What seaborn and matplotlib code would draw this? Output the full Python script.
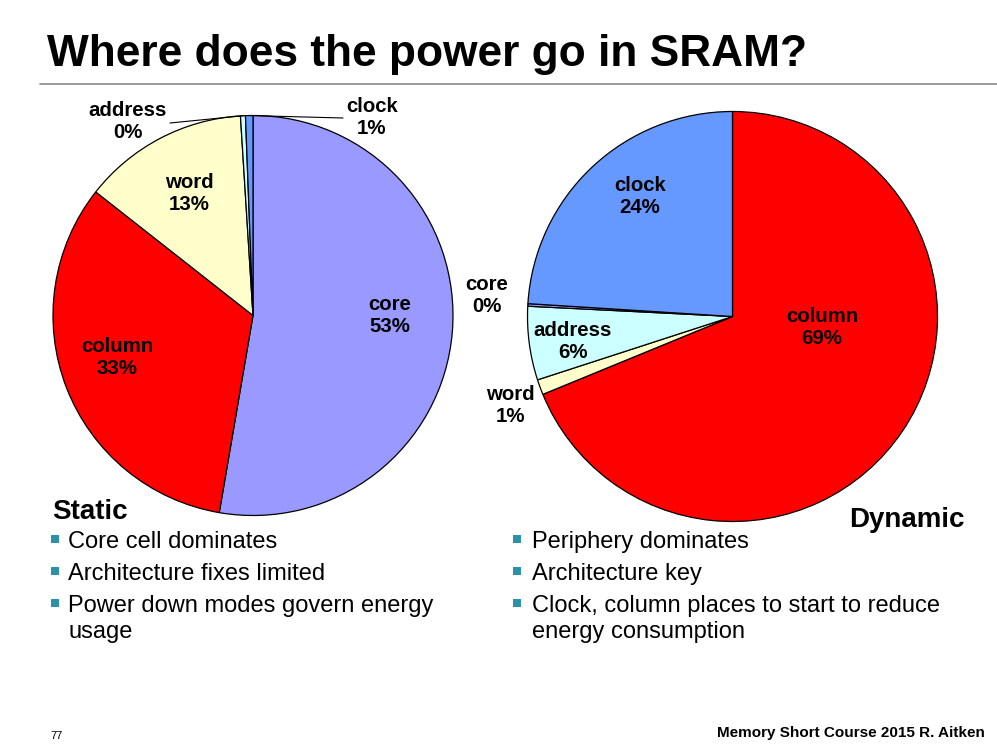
import matplotlib.pyplot as plt
import seaborn as sns
import numpy as np
from matplotlib.lines import Line2D
from matplotlib.patches import Rectangle

# data, in clockwise drawing order from 12 o'clock
static_labels = ['core', 'column', 'word', 'address', 'clock']
static_values = [52.7, 32.9, 13.4, 0.4, 0.6]

dynamic_labels = ['column', 'word', 'address', 'core', 'clock']
dynamic_values = [68.8, 1.2, 5.8, 0.2, 24.0]

colors = {'core': '#9999FF', 'column': '#FF0000', 'word': '#FFFFCC',
          'address': '#CCFFFF', 'clock': '#6699FF'}

static_bullets = ['Core cell dominates', 'Architecture fixes limited',
                  'Power down modes govern energy\nusage']
dynamic_bullets = ['Periphery dominates', 'Architecture key',
                   'Clock, column places to start to reduce\nenergy consumption']

# label text spots (in pie radius units)
static_label_pos = {'core': (0.685, 0.0), 'column': (-0.68, -0.21),
                    'word': (-0.32, 0.61), 'address': (-0.625, 0.97),
                    'clock': (0.595, 0.99)}
static_leaders = {'address': (-0.415, 0.9625), 'clock': (0.45, 0.9875)}
dynamic_label_pos = {'column': (0.437, -0.056), 'clock': (-0.451, 0.583),
                     'address': (-0.778, -0.12), 'core': (-1.198, 0.10),
                     'word': (-1.085, -0.432)}

W, H = 997, 746
sns.set_theme(style='white')
plt.rcParams['font.family'] = ['Liberation Sans', 'DejaVu Sans']
plt.rcParams['text.color'] = 'black'

fig = plt.figure(figsize=(W / 100, H / 100), dpi=100)
fig.patch.set_facecolor('white')


def px_axes(cx, cy, r):
    # square axes centred on pixel (cx, cy) with radius r
    return fig.add_axes([(cx - r) / W, 1 - (cy + r) / H, 2 * r / W, 2 * r / H])


def draw_pie(ax, labels, values, label_pos, leaders=None):
    wedges, _ = ax.pie(values, colors=[colors[l] for l in labels],
                       startangle=90, counterclock=False, radius=1,
                       wedgeprops=dict(edgecolor='black', linewidth=0.9))
    ax.set_xlim(-1, 1)
    ax.set_ylim(-1, 1)
    ax.set_aspect('equal')
    ax.axis('off')
    total = sum(values)
    for lab, val, w in zip(labels, values, wedges):
        x, y = label_pos[lab]
        ax.text(x, y, f'{lab}\n{val / total * 100:.0f}%', ha='center',
                va='center', fontsize=14.7, fontweight='bold',
                linespacing=1.2, color='black')
        if leaders and lab in leaders:
            mid = np.deg2rad((w.theta1 + w.theta2) / 2)
            ex, ey = np.cos(mid), np.sin(mid)
            sx, sy = leaders[lab]
            ax.add_line(Line2D([sx, ex], [sy, ey], color='black', lw=0.8,
                               clip_on=False))


ax1 = px_axes(253, 315.5, 200)
draw_pie(ax1, static_labels, static_values, static_label_pos, static_leaders)

ax2 = px_axes(732.5, 316.5, 205)
draw_pie(ax2, dynamic_labels, dynamic_values, dynamic_label_pos)

# title and rule
fig.text(47 / W, 1 - 66 / H, 'Where does the power go in SRAM?',
         fontsize=31.9, fontweight='bold', va='baseline', ha='left')
fig.add_artist(Line2D([40 / W, 1.0], [1 - 84 / H, 1 - 84 / H],
                      color='#888888', lw=1.2))

fig.text(52 / W, 1 - 519 / H, 'Static', fontsize=20, fontweight='bold',
         va='baseline', ha='left')
fig.text(965 / W, 1 - 527 / H, 'Dynamic', fontsize=20, fontweight='bold',
         va='baseline', ha='right')

bullet_color = '#2A93A6'
baselines = [548, 580, 612]


def draw_bullets(x_sq, x_txt, items):
    for y, item in zip(baselines, items):
        fig.add_artist(Rectangle((x_sq / W, 1 - (y - 5) / H), 8 / W, 8 / H,
                                 transform=fig.transFigure,
                                 color=bullet_color, lw=0))
        for k, line in enumerate(item.split('\n')):
            fig.text(x_txt / W, 1 - (y + 26 * k) / H, line, fontsize=17,
                     va='baseline', ha='left')


draw_bullets(51, 68, static_bullets)
draw_bullets(513, 532, dynamic_bullets)

fig.text(50 / W, 1 - 739 / H, '77', fontsize=8, va='baseline', ha='left')
fig.text(985 / W, 1 - 737 / H, 'Memory Short Course 2015 R. Aitken',
         fontsize=11, fontweight='bold', va='baseline', ha='right')

fig.savefig('out.png', dpi=100, facecolor='white')
